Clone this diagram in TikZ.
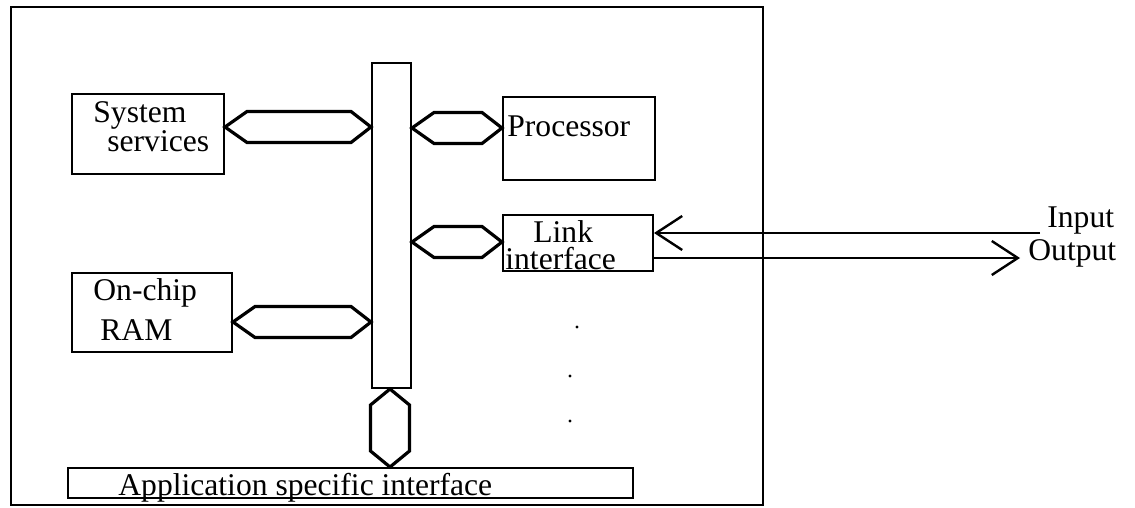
\documentclass[tikz,border=0pt]{standalone}
\usepackage{fontspec}
\setmainfont{Liberation Serif}
\usetikzlibrary{calc,arrows.meta}
\begin{document}
\begin{tikzpicture}[x=0.5pt,y=-0.5pt,
  unit/.style={draw,line width=1pt,rectangle,inner sep=0pt},
  lbl/.style={inner sep=0pt,anchor=base west,font=\fontsize{15.8}{17}\selectfont},
  lbl2/.style={lbl,align=left,font=\fontsize{15.8}{#1}\selectfont},
  buslink/.style={draw,line width=1.6pt,line join=miter},
  sig/.style={line width=1pt,-{Straight Barb[length=13pt,width=17pt,line width=1.2pt]}},
  dot/.style={circle,fill,inner sep=0pt,minimum size=1.6pt}]
\useasboundingbox (0,0) rectangle (1135,508);

% chip outline and internal bus
\node[unit,line width=1.1pt,minimum width=376pt,minimum height=249pt] (chip) at (387,256) {};
\node[unit,minimum width=19.5pt,minimum height=162.5pt] (bus) at (391.5,225.5) {};

% functional units
\node[unit,minimum width=76pt,minimum height=40pt] (sys) at (148,134) {};
\node[unit,minimum width=76pt,minimum height=41.5pt] (proc) at (579,138.5) {};
\node[unit,minimum width=75pt,minimum height=28pt] (link) at (578,243) {};
\node[unit,minimum width=80pt,minimum height=39.5pt] (ram) at (152,312.5) {};
\node[unit,minimum width=282.5pt,minimum height=15pt] (asi) at (350.5,483) {};

% labels (a two-line node sits on the baseline of its last line)
\node[lbl2=13.5pt] (t1) at (93,152) {System\\\hspace{7pt}services};
\node[lbl2=20pt] (t3) at (93,340) {On-chip\\\hspace{3.5pt}RAM};
\node[lbl] (t5) at (507,136) {Processor};
\node[lbl2=13.5pt] (t6) at (505,269) {\hspace{14pt}Link\\interface};
\node[lbl] (t8) at (118,495) {Application specific interface};
\node[lbl] (t9) at (1047,227) {Input};
\node[lbl] (t10) at (1028,260) {Output};

% heights of the bus connections
\coordinate (ySys) at (0,127);
\coordinate (yProc) at (0,128);
\coordinate (yLink) at (0,242);
\coordinate (yRam) at (0,322);
\coordinate (yIn) at (0,233);
\coordinate (yOut) at (0,258);

% horizontal double-headed bus connection
\newcommand{\hconn}[2]{%
  \draw[buslink] (#1) -- ++(22,-15.5) -- ($(#2)+(-20,-15.5)$) -- (#2)
    -- ($(#2)+(-20,15.5)$) -- ($(#1)+(22,15.5)$) -- cycle;}
\coordinate (a1) at (sys.east |- ySys);  \coordinate (b1) at (bus.west |- ySys);
\coordinate (a2) at (bus.east |- yProc); \coordinate (b2) at (proc.west |- yProc);
\coordinate (a3) at (bus.east |- yLink); \coordinate (b3) at (link.west |- yLink);
\coordinate (a4) at (ram.east |- yRam);  \coordinate (b4) at (bus.west |- yRam);
\hconn{a1}{b1}
\hconn{a2}{b2}
\hconn{a3}{b3}
\hconn{a4}{b4}

% vertical connection from the bus to the application specific interface
\coordinate (v1) at ($(bus.south)+(-1.5,0)$);
\coordinate (v2) at (v1 |- asi.north);
\draw[buslink] (v1) -- ++(19.5,16) -- ($(v2)+(19.5,-16)$) -- (v2)
  -- ($(v2)+(-19.5,-16)$) -- ($(v1)+(-19.5,16)$) -- cycle;

% external serial link
\coordinate (inEnd) at (1040,233);
\coordinate (outEnd) at (1020,258);
\draw[sig] (inEnd) -- (link.east |- yIn);
\draw[sig] (link.east |- yOut) -- (outEnd);

% continuation dots
\node[dot] (d1) at (577,327) {};
\node[dot] (d2) at (570,376) {};
\node[dot] (d3) at (570,421) {};
\end{tikzpicture}
\end{document}
